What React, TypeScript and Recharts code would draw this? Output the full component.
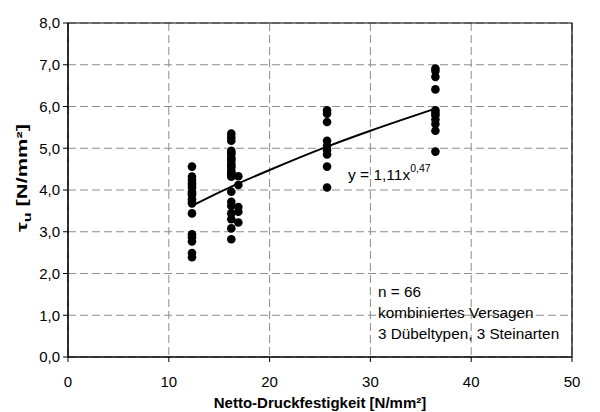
import React from 'react';
import { ScatterChart, Scatter, XAxis, YAxis, CartesianGrid, ReferenceArea } from 'recharts';

const xTicks = [0, 10, 20, 30, 40, 50];
const yTicks = [0, 1, 2, 3, 4, 5, 6, 7, 8];

// compressive strength groups (x) and measured bond strengths (y)
const x1 = 12.3;
const tau1 = [4.56, 4.32, 4.24, 4.16, 4.12, 4.06, 3.96, 3.92, 3.88, 3.78, 3.72, 3.68, 3.44, 2.94, 2.87, 2.77, 2.49, 2.39];
const x2 = 16.2;
const tau2 = [5.35, 5.26, 5.18, 4.94, 4.9, 4.86, 4.78, 4.74, 4.7, 4.62, 4.58, 4.54, 4.46, 4.42, 4.38, 4.32, 3.96, 3.72, 3.62, 3.44, 3.3, 3.08, 2.82];
const x3 = 16.9;
const tau3 = [4.33, 4.12, 3.59, 3.48, 3.22];
const x4 = 25.7;
const tau4 = [5.91, 5.83, 5.63, 5.18, 5.06, 4.96, 4.85, 4.56, 4.06];
const x5 = 36.45;
const tau5 = [6.91, 6.85, 6.71, 6.41, 5.91, 5.85, 5.79, 5.69, 5.58, 5.42, 4.92];

// trend line (y = 1,11x^0,47)
const trendX = [12.3, 16.2, 20, 25.7, 30, 36.45];
const trendY = [3.62, 4.08, 4.48, 5.04, 5.42, 5.95];

const points = [
  ...tau1.map((y) => ({ x: x1, y })),
  ...tau2.map((y) => ({ x: x2, y })),
  ...tau3.map((y) => ({ x: x3, y })),
  ...tau4.map((y) => ({ x: x4, y })),
  ...tau5.map((y) => ({ x: x5, y })),
];
const trend = trendX.map((x, i) => ({ x, y: trendY[i] }));

const FONT = '"Liberation Sans", Arial, sans-serif';

export default function App() {
  return (
    <div style={{ position: 'absolute', left: 0, top: 0, width: 600, height: 412, fontFamily: FONT, background: '#fff' }}>
      <ScatterChart width={600} height={412} margin={{ top: 23, right: 28, bottom: 0, left: 0 }}>
        <CartesianGrid stroke="#8c8c8c" strokeDasharray="8 4" strokeWidth={1} />
        <XAxis
          type="number"
          dataKey="x"
          domain={[0, 50]}
          ticks={xTicks}
          height={55}
          tickSize={5}
          tickMargin={14}
          axisLine={{ stroke: '#000' }}
          tickLine={{ stroke: '#000' }}
          tick={{ fill: '#000', fontSize: 15, fontFamily: FONT }}
        />
        <YAxis
          type="number"
          dataKey="y"
          domain={[0, 8]}
          ticks={yTicks}
          width={68}
          tickSize={5}
          tickMargin={3}
          tickFormatter={(v: number) => v.toFixed(1).replace('.', ',')}
          axisLine={{ stroke: '#000' }}
          tickLine={{ stroke: '#000' }}
          tick={{ fill: '#000', fontSize: 15, fontFamily: FONT }}
        />
        <ReferenceArea x1={0} x2={50} y1={0} y2={8} fill="none" fillOpacity={0} stroke="#000" strokeWidth={1.2} />
        <Scatter data={points} fill="#000" isAnimationActive={false} shape={(p: any) => <circle cx={p.cx} cy={p.cy} r={4.3} fill="#000" />} />
        <Scatter
          data={trend}
          isAnimationActive={false}
          line={{ stroke: '#000', strokeWidth: 2 }}
          lineJointType="monotoneX"
          shape={() => <g />}
        />
      </ScatterChart>
      <svg width={600} height={412} style={{ position: 'absolute', left: 0, top: 0, pointerEvents: 'none' }}>
        <text x={320} y={408} textAnchor="middle" fontSize={15} fontWeight="bold" fontFamily={FONT} fill="#000">
          Netto-Druckfestigkeit [N/mm²]
        </text>
        <text
          transform="translate(27,178) rotate(-90)"
          textAnchor="middle"
          fontSize={15}
          fontWeight="bold"
          fontFamily={FONT}
          fill="#000"
          textLength={108}
          lengthAdjust="spacingAndGlyphs"
        >
          τ<tspan fontSize={11} dy={4}>u</tspan><tspan dy={-4}> [N/mm²]</tspan>
        </text>
        <text x={348} y={180} fontSize={15.5} fontFamily={FONT} fill="#000">
          y = 1,11x<tspan fontSize={10.5} dy={-8}>0,47</tspan>
        </text>
        <text x={378} y={297} fontSize={15.3} fontFamily={FONT} fill="#000">n = 66</text>
        <text x={378} y={318} fontSize={15.3} fontFamily={FONT} fill="#000">kombiniertes Versagen</text>
        <text x={378} y={339} fontSize={15.3} fontFamily={FONT} fill="#000">3 Dübeltypen, 3 Steinarten</text>
      </svg>
    </div>
  );
}
